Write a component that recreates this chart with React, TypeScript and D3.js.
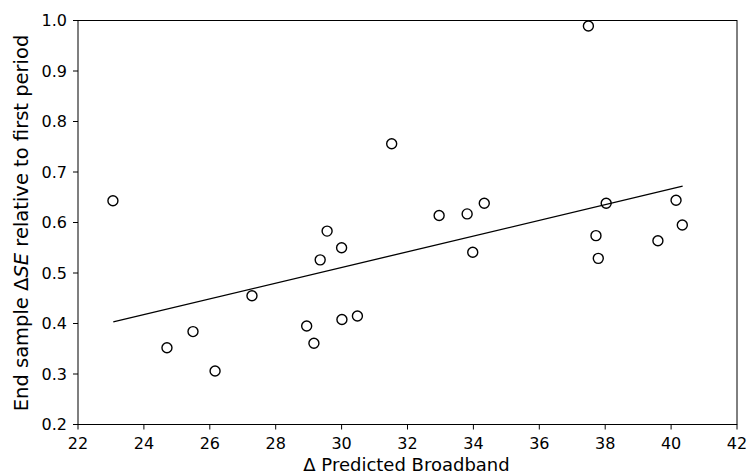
import React from "react";
import * as d3 from "d3";

// predicted broadband change (x) and end-sample ΔSE relative to first period (y)
const broadband = [
  23.06, 24.7, 25.49, 26.16, 27.28, 28.94, 29.16, 29.35, 29.56, 30.0, 30.01, 30.48,
  31.52, 32.96, 33.81, 33.98, 34.33, 37.49, 37.72, 37.79, 38.03, 39.6, 40.15, 40.34,
];
const deltaSE = [
  0.643, 0.352, 0.384, 0.306, 0.455, 0.395, 0.361, 0.526, 0.583, 0.55, 0.408, 0.415,
  0.756, 0.614, 0.617, 0.541, 0.638, 0.989, 0.574, 0.529, 0.638, 0.564, 0.644, 0.595,
];

// fitted line end points
const fitX = [23.07, 40.35];
const fitY = [0.403, 0.672];

const xTicks = [22, 24, 26, 28, 30, 32, 34, 36, 38, 40, 42];
const yTicks = [0.2, 0.3, 0.4, 0.5, 0.6, 0.7, 0.8, 0.9, 1.0];

const width = 749;
const height = 476;
const margin = { top: 20.5, left: 78, right: 12, bottom: 51.5 };
const font = "DejaVu Sans, sans-serif";

export default function App() {
  const x = d3.scaleLinear().domain([22, 42]).range([margin.left, width - margin.right]);
  const y = d3.scaleLinear().domain([0.2, 1.0]).range([height - margin.bottom, margin.top]);

  const points = broadband.map((b, i) => ({ x: b, y: deltaSE[i] }));
  const fit = fitX.map((v, i) => [v, fitY[i]] as [number, number]);
  const line = d3.line<[number, number]>().x(d => x(d[0])).y(d => y(d[1]));

  const x0 = margin.left;
  const x1 = width - margin.right;
  const y0 = height - margin.bottom;
  const y1 = margin.top;

  return (
    <svg width={width} height={height} style={{ position: "absolute", left: 0, top: 0 }}
      fontFamily={font}>
      <rect width={width} height={height} fill="white" />
      <path d={line(fit) || ""} fill="none" stroke="black" strokeWidth={1.3} />
      {points.map((p, i) => (
        <circle key={i} cx={x(p.x)} cy={y(p.y)} r={5} fill="none" stroke="black" strokeWidth={1.4} />
      ))}
      <rect x={x0} y={y1} width={x1 - x0} height={y0 - y1} fill="none" stroke="black" strokeWidth={1} />
      {xTicks.map(t => (
        <g key={t} transform={`translate(${x(t)},${y0})`}>
          <line y2={5} stroke="black" strokeWidth={1} />
          <text y={24.5} textAnchor="middle" fontSize={16}>
            {t}
          </text>
        </g>
      ))}
      {yTicks.map(t => (
        <g key={t} transform={`translate(${x0},${y(t)})`}>
          <line x2={-5} stroke="black" strokeWidth={1} />
          <text x={-11} textAnchor="end" fontSize={16} dy="0.36em">
            {t.toFixed(1)}
          </text>
        </g>
      ))}
      <text x={(x0 + x1) / 2 - 1} y={470.5} textAnchor="middle" fontSize={18}>
        Δ Predicted Broadband
      </text>
      <text transform={`translate(27.5,${(y0 + y1) / 2 + 0.5}) rotate(-90)`} textAnchor="middle" fontSize={19.5}>
        End sample Δ<tspan fontStyle="italic">SE</tspan> relative to first period
      </text>
    </svg>
  );
}
